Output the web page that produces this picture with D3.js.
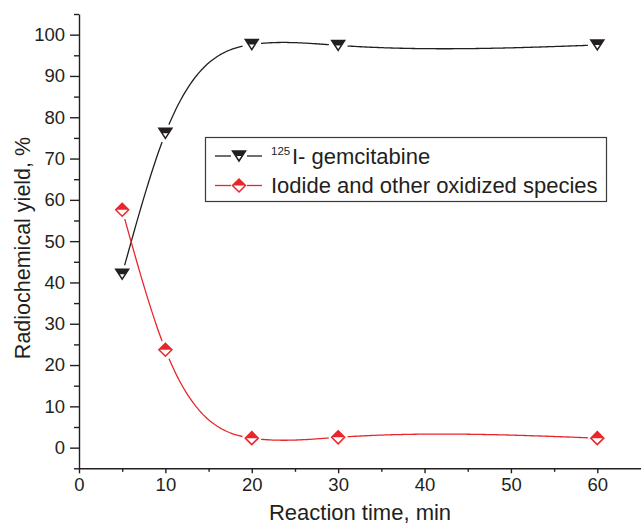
<!DOCTYPE html>
<html><head><meta charset="utf-8">
<script src="https://cdn.jsdelivr.net/npm/d3@7"></script>
<style>
body{margin:0;background:#fff}
svg{display:block}
text{font-family:"Liberation Sans",Arial,sans-serif;fill:#231f20}
</style>
</head><body>
<svg id="chart" width="641" height="526"></svg>
<script>
// ---- data ----
const times = [5, 10, 20, 30, 60];
const gemcitabine = [42.0, 76.1, 97.6, 97.4, 97.5];
const iodide = [57.6, 23.7, 2.3, 2.5, 2.3];
const xTicks = [0, 10, 20, 30, 40, 50, 60];
const xMinorTicks = [5, 15, 25, 35, 45, 55];
const yTicks = [0, 10, 20, 30, 40, 50, 60, 70, 80, 90, 100];
const yMinorTicks = [-5, 5, 15, 25, 35, 45, 55, 65, 75, 85, 95, 105];
const legendSup = ["125", ""];
const legendLabels = ["I- gemcitabine", "Iodide and other oxidized species"];
const xTitle = "Reaction time, min";
const yTitle = "Radiochemical yield, %";

const ink = "#231f20";
const red = "#e8262b";

const svg = d3.select("#chart");
const x = d3.scaleLinear().domain([0, 65]).range([79, 640.5]);
const y = d3.scaleLinear().domain([-5, 105]).range([468.3, 14]);

// natural cubic spline y(x)
function naturalSpline(xs, ys) {
  const n = xs.length, h = [], al = [], l = [1], mu = [0], z = [0];
  const c = new Array(n).fill(0), b = [], d = [];
  for (let i = 0; i < n - 1; i++) h[i] = xs[i + 1] - xs[i];
  for (let i = 1; i < n - 1; i++) al[i] = 3 / h[i] * (ys[i + 1] - ys[i]) - 3 / h[i - 1] * (ys[i] - ys[i - 1]);
  for (let i = 1; i < n - 1; i++) {
    l[i] = 2 * (xs[i + 1] - xs[i - 1]) - h[i - 1] * mu[i - 1];
    mu[i] = h[i] / l[i];
    z[i] = (al[i] - h[i - 1] * z[i - 1]) / l[i];
  }
  for (let j = n - 2; j >= 0; j--) {
    c[j] = z[j] - mu[j] * c[j + 1];
    b[j] = (ys[j + 1] - ys[j]) / h[j] - h[j] * (c[j + 1] + 2 * c[j]) / 3;
    d[j] = (c[j + 1] - c[j]) / (3 * h[j]);
  }
  return t => {
    let j = 0;
    while (j < n - 2 && t > xs[j + 1]) j++;
    const dx = t - xs[j];
    return ys[j] + b[j] * dx + c[j] * dx * dx + d[j] * dx * dx * dx;
  };
}

// ---- axes ----
const gx = svg.append("g").attr("transform", `translate(0,${y(-5)})`);
gx.call(d3.axisBottom(x).tickValues(xTicks).tickSize(5).tickSizeOuter(0).tickPadding(5).tickFormat(d3.format("d")));
gx.append("g").call(d3.axisBottom(x).tickValues(xMinorTicks).tickSize(3.5).tickFormat(""))
  .select(".domain").remove();
const gy = svg.append("g").attr("transform", `translate(${x(0)},0)`);
gy.call(d3.axisLeft(y).tickValues(yTicks).tickSize(9).tickSizeOuter(0).tickPadding(5).tickFormat(d3.format("d")));
gy.append("g").call(d3.axisLeft(y).tickValues(yMinorTicks).tickSize(5).tickFormat(""))
  .select(".domain").remove();
svg.selectAll(".domain, .tick line").attr("stroke", ink).attr("stroke-width", 1.4);
svg.selectAll(".tick text").attr("font-size", 18.5).attr("font-family", '"Liberation Sans",Arial,sans-serif').attr("fill", ink);

svg.append("text").attr("x", (x(0) + 641) / 2).attr("y", 520).attr("text-anchor", "middle")
  .attr("font-size", 22).text(xTitle);
svg.append("text").attr("transform", `translate(30,${248}) rotate(-90)`).attr("text-anchor", "middle")
  .attr("font-size", 21.5).text(yTitle);

// ---- series ----
const series = [
  {name: "g", vals: gemcitabine, color: ink, shape: "tri"},
  {name: "i", vals: iodide, color: red, shape: "dia"}
];
const defs = svg.append("defs");

function drawMarker(g, shape, color) {
  if (shape === "tri") {
    g.append("path").attr("d", "M-6.5,-5L6.5,-5L0,5Z").attr("fill", "#fff").attr("stroke", color).attr("stroke-width", 1.5).attr("stroke-linejoin", "miter");
    g.append("path").attr("d", "M-6.5,-5L6.5,-5L3.25,0L-3.25,0Z").attr("fill", color);
  } else {
    g.append("path").attr("d", "M0,-6.5L6.5,0L0,6.5L-6.5,0Z").attr("fill", "#fff").attr("stroke", color).attr("stroke-width", 1.5);
    g.append("path").attr("d", "M0,-6.5L6.5,0L-6.5,0Z").attr("fill", color);
  }
}

series.forEach(s => {
  const f = naturalSpline(times, s.vals);
  const samples = d3.range(times[0], times[times.length - 1] + 0.001, 0.2).map(t => [t, f(t)]);
  const mask = defs.append("mask").attr("id", "m_" + s.name).attr("maskUnits", "userSpaceOnUse")
    .attr("x", 0).attr("y", 0).attr("width", 641).attr("height", 526);
  mask.append("rect").attr("width", 641).attr("height", 526).attr("fill", "#fff");
  mask.selectAll("circle").data(times).join("circle")
    .attr("cx", (t) => x(t)).attr("cy", (t, i) => y(s.vals[i])).attr("r", 9.5).attr("fill", "#000");
  svg.append("path").datum(samples)
    .attr("d", d3.line().x(d => x(d[0])).y(d => y(d[1])))
    .attr("fill", "none").attr("stroke", s.color).attr("stroke-width", 1.3)
    .attr("mask", `url(#m_${s.name})`);
  svg.append("g").selectAll("g").data(times).join("g")
    .attr("transform", (t, i) => `translate(${x(t)},${y(s.vals[i])})`)
    .each(function () { drawMarker(d3.select(this), s.shape, s.color); });
});

// ---- legend ----
const lg = svg.append("g");
lg.append("rect").attr("x", 205.5).attr("y", 137.5).attr("width", 401).attr("height", 64)
  .attr("fill", "#fff").attr("stroke", "#3a3a3a").attr("stroke-width", 1.2);
const rowY = [156, 185.5];
series.forEach((s, i) => {
  const cy = rowY[i];
  lg.append("line").attr("x1", 215).attr("x2", 231).attr("y1", cy).attr("y2", cy).attr("stroke", s.color).attr("stroke-width", 1.3);
  lg.append("line").attr("x1", 247).attr("x2", 262).attr("y1", cy).attr("y2", cy).attr("stroke", s.color).attr("stroke-width", 1.3);
  drawMarker(lg.append("g").attr("transform", `translate(239,${cy})`), s.shape, s.color);
  if (legendSup[i]) {
    lg.append("text").attr("x", 271).attr("y", cy - 1).attr("font-size", 11.5).text(legendSup[i]);
    lg.append("text").attr("x", 292).attr("y", cy + 8).attr("font-size", 22).text(legendLabels[i]);
  } else {
    lg.append("text").attr("x", 271).attr("y", cy + 7.5).attr("font-size", 22).text(legendLabels[i]);
  }
});
</script>
</body></html>
